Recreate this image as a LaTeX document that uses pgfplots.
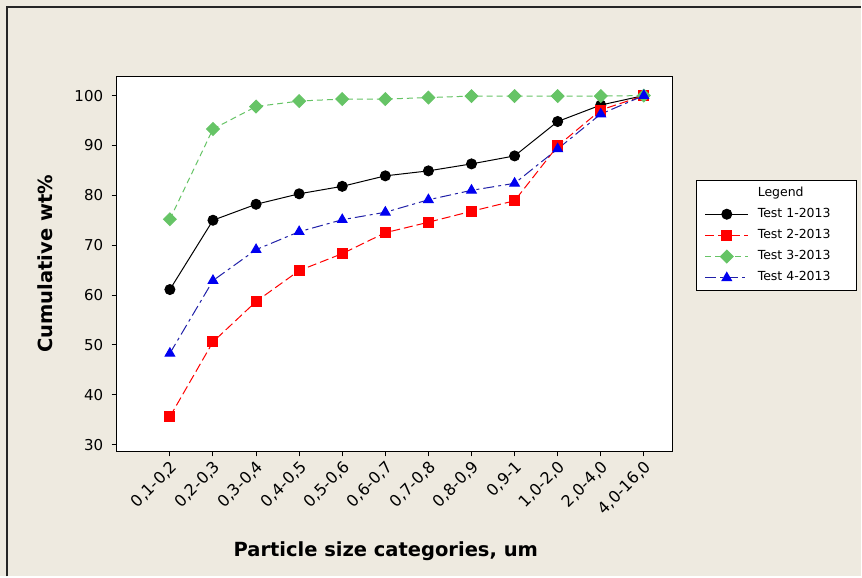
\documentclass[border=0pt]{standalone}
\usepackage{fontspec}
\setmainfont{DejaVu Sans}
\usepackage{pgfplots}
\pgfplotsset{compat=1.18}
\definecolor{bgc}{HTML}{EEEAE0}
\definecolor{tgreen}{HTML}{66C466}
\definecolor{tred}{HTML}{FF0000}
\definecolor{tblue}{HTML}{0000F0}
\definecolor{tblueline}{HTML}{2020A8}

\begin{document}
\begin{tikzpicture}
% page background and the partial frame of the screenshot
\fill[bgc] (0pt,0pt) rectangle (862pt,577pt);
\draw[line width=1.5pt, black!85] (7pt,0pt) -- (7pt,570pt) -- (862pt,570pt);

\begin{axis}[
    at={(116.7pt,125.3pt)}, anchor=south west,
    scale only axis, width=556.6pt, height=375pt,
    xmin=-1.237, xmax=11.67,
    ymin=28.66, ymax=103.8,
    axis background/.style={fill=white},
    axis line style={line width=1pt},
    tick align=outside, xtick pos=left, ytick pos=left,
    major tick length=5pt,
    tick style={black, line width=1pt},
    ytick={30,40,...,100},
    xtick={0,...,11},
    xticklabels={{0,1-0,2},{0,2-0,3},{0,3-0,4},{0,4-0,5},{0,5-0,6},{0,6-0,7},
                 {0,7-0,8},{0,8-0,9},{0,9-1},{1,0-2,0},{2,0-4,0},{4,0-16,0}},
    /pgf/number format/assume math mode=true,
    yticklabel style={font=\fontsize{15}{18}\selectfont, xshift=-5pt},
    xticklabel style={font=\fontsize{16}{18}\selectfont,
        rotate=45, anchor=east, xshift=1pt, yshift=-9pt},
    xlabel={Particle size categories, um},
    ylabel={Cumulative wt\%},
    label style={font=\bfseries\fontsize{19.5}{23}\selectfont},
    xlabel style={at={(axis description cs:0.484,-0.267)}, anchor=center},
    ylabel style={at={(axis description cs:-0.129,0.5)}, anchor=center, rotate=0},
    legend style={at={(1.0426,0.7245)}, anchor=north west,
        draw=black, line width=0.8pt, fill=white,
        font=\fontsize{12.5}{14}\selectfont,
        inner xsep=8pt, inner ysep=7pt,
        row sep=9pt,
        nodes={inner sep=0pt, text height=9pt, text depth=3pt, line width=1pt},
        /tikz/every odd column/.append style={column sep=9pt}},
    legend cell align=left,
    legend image code/.code={%
        \draw[mark repeat=2, mark phase=2, #1]
            plot coordinates {(0pt,0pt) (21.5pt,0pt) (43pt,0pt)};},
]

\addlegendimage{empty legend}
\addlegendentry{\makebox[91pt][l]{Legend}}

\addplot[black, line width=1pt, mark=*, mark size=5pt,
    mark options={solid, fill=black}] coordinates {
    (0,61.1) (1,75.0) (2,78.2) (3,80.3) (4,81.8) (5,83.9)
    (6,84.9) (7,86.3) (8,87.9) (9,94.8) (10,98.1) (11,100.0)
};
\addlegendentry{Test 1-2013}

\addplot[tred, line width=1pt, dash pattern=on 9pt off 4pt,
    mark=square*, mark size=5pt,
    mark options={solid, fill=tred, draw=tred}] coordinates {
    (0,35.6) (1,50.6) (2,58.7) (3,64.9) (4,68.3) (5,72.5)
    (6,74.6) (7,76.8) (8,78.9) (9,89.9) (10,97.1) (11,100.0)
};
\addlegendentry{Test 2-2013}

\addplot[tgreen, line width=1pt, dash pattern=on 6pt off 4pt,
    mark=square*, mark size=4.5pt,
    mark options={solid, rotate=45, fill=tgreen, draw=tgreen}] coordinates {
    (0,75.2) (1,93.3) (2,97.8) (3,98.9) (4,99.3) (5,99.3)
    (6,99.6) (7,99.9) (8,99.9) (9,99.9) (10,99.9) (11,100.0)
};
\addlegendentry{Test 3-2013}

\addplot[tblueline, line width=1pt, dash pattern=on 11pt off 4pt on 3pt off 4pt,
    mark=triangle*, mark size=5.5pt,
    mark options={solid, fill=tblue, draw=tblue}] coordinates {
    (0,48.3) (1,62.9) (2,69.1) (3,72.7) (4,75.1) (5,76.6)
    (6,79.1) (7,81.0) (8,82.4) (9,89.3) (10,96.3) (11,100.0)
};
\addlegendentry{Test 4-2013}

\end{axis}
\end{tikzpicture}
\end{document}
